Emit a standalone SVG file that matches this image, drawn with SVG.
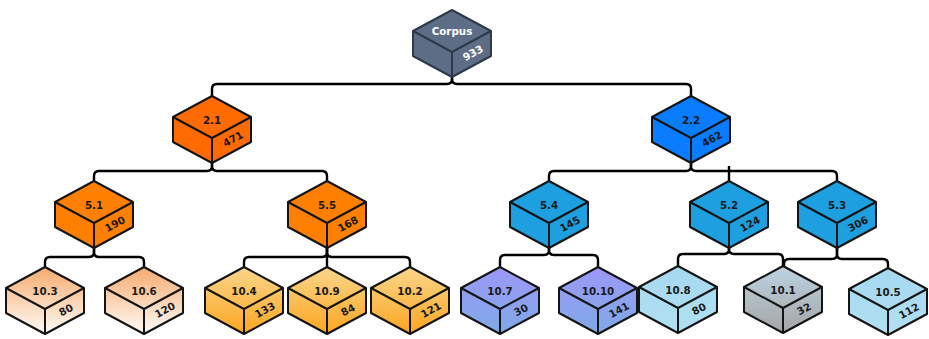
<svg xmlns="http://www.w3.org/2000/svg" xmlns:xlink="http://www.w3.org/1999/xlink" width="929" height="339" viewBox="0 0 929 339">
<style>
.edge{fill:none;stroke:#141414;stroke-width:2;stroke-linejoin:round}
.conn{fill:none;stroke:#000;stroke-width:2.4;stroke-linecap:butt}
.lbl{font-family:"DejaVu Sans",Verdana,sans-serif;font-weight:bold;font-size:10.3px;fill:#1a1a1a;text-anchor:middle}
.wh{fill:#ffffff}
.corpus{stroke:#2e3a4b}
</style>
<defs>
<path id="cubeOut" d="M0,0 L39,21 L39,46 L0,67 L-39,46 L-39,21 Z"/>
<path id="cubeIn" d="M-39,21 L0,42 L39,21 M0,42 V67"/>
<linearGradient id="gPeach" x1="0" y1="0" x2="0" y2="1"><stop offset="0" stop-color="#f6ab6e"/><stop offset="1" stop-color="#fffbf8"/></linearGradient>
<linearGradient id="gGold" x1="0" y1="0" x2="0" y2="1"><stop offset="0" stop-color="#fad68c"/><stop offset="1" stop-color="#fca620"/></linearGradient>
<linearGradient id="gPurple" x1="0" y1="0" x2="0" y2="1"><stop offset="0" stop-color="#9d98f8"/><stop offset="1" stop-color="#7eaae6"/></linearGradient>
<linearGradient id="gSky" x1="0" y1="0" x2="0" y2="1"><stop offset="0" stop-color="#a6d8f0"/><stop offset="1" stop-color="#b0e0f2"/></linearGradient>
<linearGradient id="gGray" x1="0" y1="0" x2="0" y2="1"><stop offset="0" stop-color="#bcd3e2"/><stop offset="1" stop-color="#a5a5a5"/></linearGradient>
</defs>

<g id="connectors" class="conn">
<path d="M452,77 V79 Q452,84 447,84 H217 Q212,84 212,89 V96"/>
<path d="M452,77 V79 Q452,84 457,84 H686 Q691,84 691,89 V96"/>
<path d="M212,163 V166 Q212,171 207,171 H99 Q94,171 94,176 V181"/>
<path d="M212,163 V166 Q212,171 217,171 H322 Q327,171 327,176 V181"/>
<path d="M691,163 V166 Q691,171 686,171 H554 Q549,171 549,176 V181"/>
<path d="M691,163 V166 Q691,171 696,171 H832 Q837,171 837,176 V181"/>
<path d="M729,166 V181"/>
<path d="M94,248 V252 Q94,257 89,257 H50 Q45,257 45,262 V267"/>
<path d="M94,248 V252 Q94,257 99,257 H139 Q144,257 144,262 V267"/>
<path d="M327,248 V252 Q327,257 322,257 H249 Q244,257 244,262 V267"/>
<path d="M327,248 V267"/>
<path d="M327,248 V252 Q327,257 332,257 H405 Q410,257 410,262 V267"/>
<path d="M549,248 V250 Q549,255 544,255 H505 Q500,255 500,260 V267"/>
<path d="M549,248 V250 Q549,255 554,255 H593 Q598,255 598,260 V267"/>
<path d="M729,248 V249 Q729,254 724,254 H683 Q678,254 678,259 V266"/>
<path d="M729,248 V249 Q729,254 734,254 H778 Q783,254 783,259 V266"/>
<path d="M837,248 V254 Q837,259 832,259 H789 Q784,259 784,264 V266"/>
<path d="M837,248 V254 Q837,259 842,259 H883 Q888,259 888,264 V268"/>
</g>

<g id="corpus" transform="translate(452,10)">
<use href="#cubeOut" class="edge corpus" style="fill:#5d6d85"/>
<use href="#cubeIn" class="edge corpus"/>
<text class="lbl wh" x="0" y="25">Corpus</text>
<text class="lbl wh" transform="translate(21,43) rotate(-28)" dy="0.35em">933</text>
</g>

<g id="n2_1" transform="translate(212,96)">
<use href="#cubeOut" class="edge" style="fill:#ff6b00"/>
<use href="#cubeIn" class="edge"/>
<text class="lbl" x="0" y="28">2.1</text>
<text class="lbl" transform="translate(21,43) rotate(-28)" dy="0.35em">471</text>
</g>
<g id="n2_2" transform="translate(691,96)">
<use href="#cubeOut" class="edge" style="fill:#0a7cff"/>
<use href="#cubeIn" class="edge"/>
<text class="lbl" x="0" y="28">2.2</text>
<text class="lbl" transform="translate(21,43) rotate(-28)" dy="0.35em">462</text>
</g>

<g id="n5_1" transform="translate(94,181)">
<use href="#cubeOut" class="edge" style="fill:#ff8000"/>
<use href="#cubeIn" class="edge"/>
<text class="lbl" x="0" y="28">5.1</text>
<text class="lbl" transform="translate(21,43) rotate(-28)" dy="0.35em">190</text>
</g>
<g id="n5_5" transform="translate(327,181)">
<use href="#cubeOut" class="edge" style="fill:#ff8000"/>
<use href="#cubeIn" class="edge"/>
<text class="lbl" x="0" y="28">5.5</text>
<text class="lbl" transform="translate(21,43) rotate(-28)" dy="0.35em">168</text>
</g>
<g id="n5_4" transform="translate(549,181)">
<use href="#cubeOut" class="edge" style="fill:#1d9fe0"/>
<use href="#cubeIn" class="edge"/>
<text class="lbl" x="0" y="28">5.4</text>
<text class="lbl" transform="translate(21,43) rotate(-28)" dy="0.35em">145</text>
</g>
<g id="n5_2" transform="translate(729,181)">
<use href="#cubeOut" class="edge" style="fill:#1d9fe0"/>
<use href="#cubeIn" class="edge"/>
<text class="lbl" x="0" y="28">5.2</text>
<text class="lbl" transform="translate(21,43) rotate(-28)" dy="0.35em">124</text>
</g>
<g id="n5_3" transform="translate(837,181)">
<use href="#cubeOut" class="edge" style="fill:#1d9fe0"/>
<use href="#cubeIn" class="edge"/>
<text class="lbl" x="0" y="28">5.3</text>
<text class="lbl" transform="translate(21,43) rotate(-28)" dy="0.35em">306</text>
</g>

<g id="n10_3" transform="translate(45,267)">
<use href="#cubeOut" class="edge" style="fill:url(#gPeach)"/>
<use href="#cubeIn" class="edge"/>
<text class="lbl" x="0" y="28">10.3</text>
<text class="lbl" transform="translate(21,43) rotate(-28)" dy="0.35em">80</text>
</g>
<g id="n10_6" transform="translate(144,267)">
<use href="#cubeOut" class="edge" style="fill:url(#gPeach)"/>
<use href="#cubeIn" class="edge"/>
<text class="lbl" x="0" y="28">10.6</text>
<text class="lbl" transform="translate(21,43) rotate(-28)" dy="0.35em">120</text>
</g>
<g id="n10_4" transform="translate(244,267)">
<use href="#cubeOut" class="edge" style="fill:url(#gGold)"/>
<use href="#cubeIn" class="edge"/>
<text class="lbl" x="0" y="28">10.4</text>
<text class="lbl" transform="translate(21,43) rotate(-28)" dy="0.35em">133</text>
</g>
<g id="n10_9" transform="translate(327,267)">
<use href="#cubeOut" class="edge" style="fill:url(#gGold)"/>
<use href="#cubeIn" class="edge"/>
<text class="lbl" x="0" y="28">10.9</text>
<text class="lbl" transform="translate(21,43) rotate(-28)" dy="0.35em">84</text>
</g>
<g id="n10_2" transform="translate(410,267)">
<use href="#cubeOut" class="edge" style="fill:url(#gGold)"/>
<use href="#cubeIn" class="edge"/>
<text class="lbl" x="0" y="28">10.2</text>
<text class="lbl" transform="translate(21,43) rotate(-28)" dy="0.35em">121</text>
</g>
<g id="n10_7" transform="translate(500,267)">
<use href="#cubeOut" class="edge" style="fill:url(#gPurple)"/>
<use href="#cubeIn" class="edge"/>
<text class="lbl" x="0" y="28">10.7</text>
<text class="lbl" transform="translate(21,43) rotate(-28)" dy="0.35em">30</text>
</g>
<g id="n10_10" transform="translate(598,267)">
<use href="#cubeOut" class="edge" style="fill:url(#gPurple)"/>
<use href="#cubeIn" class="edge"/>
<text class="lbl" x="0" y="28">10.10</text>
<text class="lbl" transform="translate(21,43) rotate(-28)" dy="0.35em">141</text>
</g>
<g id="n10_8" transform="translate(678,266)">
<use href="#cubeOut" class="edge" style="fill:url(#gSky)"/>
<use href="#cubeIn" class="edge"/>
<text class="lbl" x="0" y="28">10.8</text>
<text class="lbl" transform="translate(21,43) rotate(-28)" dy="0.35em">80</text>
</g>
<g id="n10_1" transform="translate(783,266)">
<use href="#cubeOut" class="edge" style="fill:url(#gGray)"/>
<use href="#cubeIn" class="edge"/>
<text class="lbl" x="0" y="28">10.1</text>
<text class="lbl" transform="translate(21,43) rotate(-28)" dy="0.35em">32</text>
</g>
<g id="n10_5" transform="translate(888,268)">
<use href="#cubeOut" class="edge" style="fill:url(#gSky)"/>
<use href="#cubeIn" class="edge"/>
<text class="lbl" x="0" y="28">10.5</text>
<text class="lbl" transform="translate(21,43) rotate(-28)" dy="0.35em">112</text>
</g>
</svg>
